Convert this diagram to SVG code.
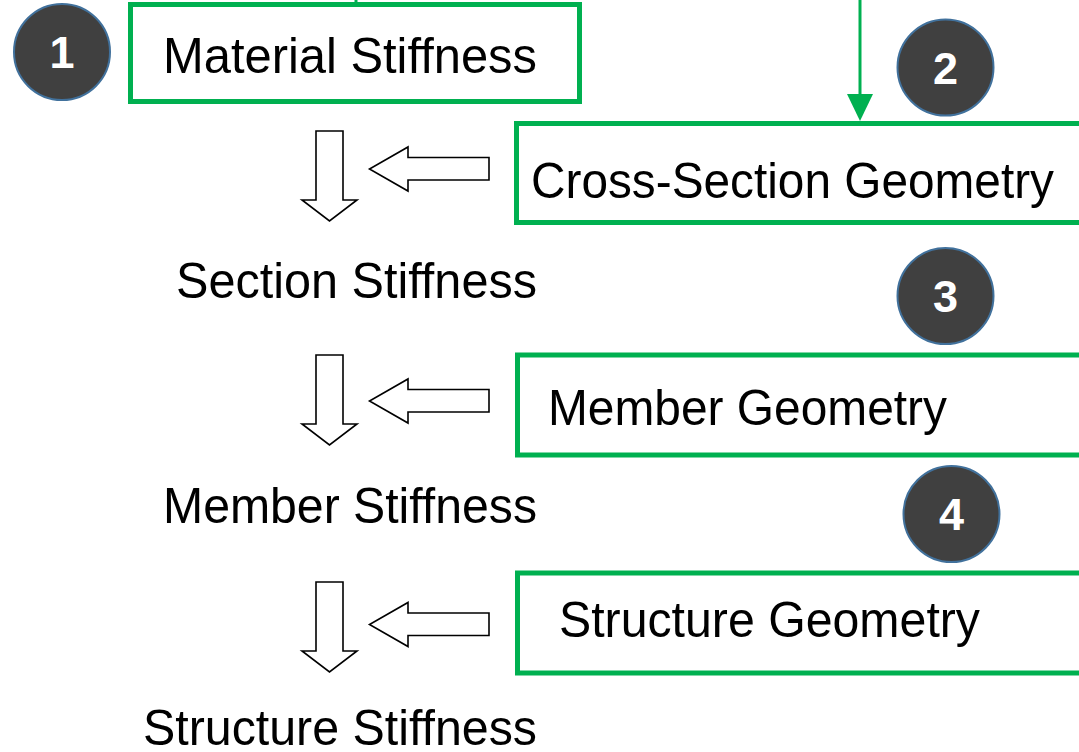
<svg xmlns="http://www.w3.org/2000/svg" width="1079" height="752" viewBox="0 0 1079 752">
  <style>
    .box { fill: #ffffff; stroke: #00B050; stroke-width: 5; }
    .lbl { font-family: "Liberation Sans", Arial, sans-serif; font-size: 50px; fill: #000000; }
    .badge circle { fill: #404040; stroke: #41719C; stroke-width: 2; }
    .badge text { font-family: "Liberation Sans", Arial, sans-serif; font-size: 45px; font-weight: bold; fill: #ffffff; text-anchor: middle; }
    .block { fill: #ffffff; stroke: #000000; stroke-width: 1.6; stroke-linejoin: miter; }
    .feed { stroke: #00B050; stroke-width: 3; fill: none; }
  </style>
  <defs>
    <!-- hollow block arrows: downward flow and incoming geometry -->
    <polygon id="downArrow" class="block" points="316,131 343,131 343,200 357,200 329.5,221 302,200 316,200"/>
    <polygon id="leftArrow" class="block" points="489,157.5 408,157.5 408,147 369.5,169 408,191 408,180 489,180"/>
  </defs>

  <rect width="1079" height="752" fill="#ffffff"/>

  <!-- connectors -->
  <g id="connectors">
    <line class="feed" x1="356" y1="0" x2="356" y2="4"/>
    <line class="feed" x1="860" y1="0" x2="860" y2="94"/>
    <path d="M847 94 L873 94 L860 121 Z" fill="#00B050"/>
    <use href="#downArrow"/>
    <use href="#leftArrow"/>
    <use href="#downArrow" transform="translate(0,224)"/>
    <use href="#leftArrow" transform="translate(0,232)"/>
    <use href="#downArrow" transform="translate(0,451)"/>
    <use href="#leftArrow" transform="translate(0,455.5)"/>
  </g>

  <!-- input boxes -->
  <g id="material-stiffness">
    <rect class="box" x="130.5" y="4.5" width="449" height="97"/>
    <text class="lbl" x="163" y="73" textLength="374" lengthAdjust="spacingAndGlyphs">Material  Stiffness</text>
  </g>
  <g id="cross-section-geometry">
    <rect class="box" x="516.5" y="123.5" width="580" height="99"/>
    <text class="lbl" x="531" y="198" textLength="523" lengthAdjust="spacingAndGlyphs">Cross-Section Geometry</text>
  </g>
  <g id="member-geometry">
    <rect class="box" x="517.5" y="355" width="580" height="100"/>
    <text class="lbl" x="548" y="425" textLength="399" lengthAdjust="spacingAndGlyphs">Member  Geometry</text>
  </g>
  <g id="structure-geometry">
    <rect class="box" x="517.5" y="573" width="580" height="100"/>
    <text class="lbl" x="559" y="637" textLength="421" lengthAdjust="spacingAndGlyphs">Structure  Geometry</text>
  </g>

  <!-- derived stiffness labels -->
  <g id="section-stiffness">
    <text class="lbl" x="176" y="298" textLength="361" lengthAdjust="spacingAndGlyphs">Section  Stiffness</text>
  </g>
  <g id="member-stiffness">
    <text class="lbl" x="163" y="523" textLength="374" lengthAdjust="spacingAndGlyphs">Member  Stiffness</text>
  </g>
  <g id="structure-stiffness">
    <text class="lbl" x="143" y="745" textLength="394" lengthAdjust="spacingAndGlyphs">Structure  Stiffness</text>
  </g>

  <!-- step badges -->
  <g id="badge-1" class="badge">
    <circle cx="62" cy="52" r="48"/>
    <text x="62" y="68">1</text>
  </g>
  <g id="badge-2" class="badge">
    <circle cx="945.5" cy="67.5" r="48"/>
    <text x="945.5" y="83.5">2</text>
  </g>
  <g id="badge-3" class="badge">
    <circle cx="945.5" cy="296" r="48"/>
    <text x="945.5" y="312">3</text>
  </g>
  <g id="badge-4" class="badge">
    <circle cx="951.5" cy="514" r="48"/>
    <text x="951.5" y="530">4</text>
  </g>
</svg>
